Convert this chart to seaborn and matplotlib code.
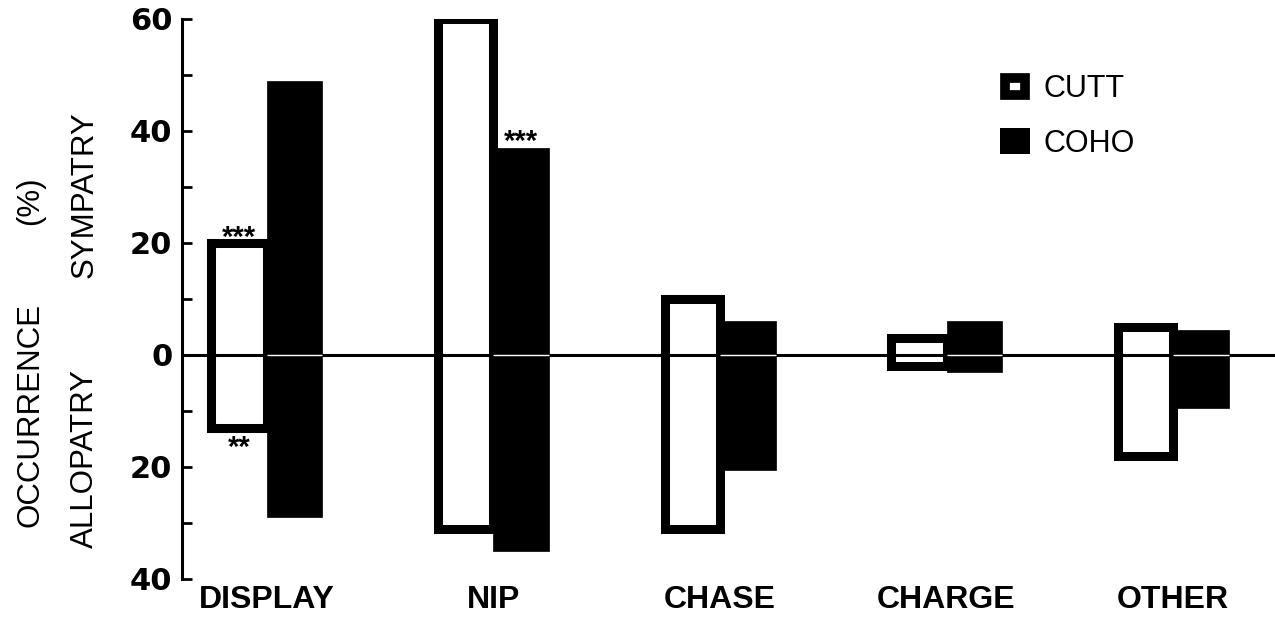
import matplotlib
matplotlib.use("Agg")
import matplotlib.pyplot as plt
import matplotlib.transforms as mtransforms
from matplotlib.patches import Patch, Rectangle
from matplotlib.legend_handler import HandlerPatch
import pandas as pd
import seaborn as sns

# Behaviour categories and the two species compared
categories = ["DISPLAY", "NIP", "CHASE", "CHARGE", "OTHER"]
species = ["CUTT", "COHO"]

# Percent occurrence: sympatry plotted upward, allopatry downward
cutt_sympatry = [20, 60, 10, 3, 5]
cutt_allopatry = [13, 31, 31, 2, 18]
coho_sympatry = [49, 37, 6, 6, 4.5]
coho_allopatry = [29, 35, 20.5, 3, 9.5]

# Significance marks: (species, category, side, text)
significance = [
    ("CUTT", "DISPLAY", "sympatry", "***"),
    ("CUTT", "DISPLAY", "allopatry", "**"),
    ("COHO", "NIP", "sympatry", "***"),
]

y_tick_values = [-40, -30, -20, -10, 0, 10, 20, 30, 40, 50, 60]
y_tick_labels = ["40", "", "20", "", "0", "", "20", "", "40", "", "60"]

sns.set_theme(style="white")
plt.rcParams["font.family"] = ["Liberation Sans", "DejaVu Sans"]
plt.rcParams.update({
    "text.color": "black", "axes.labelcolor": "black",
    "xtick.color": "black", "ytick.color": "black",
})

df = pd.DataFrame({
    "behaviour": categories * 2,
    "species": ["CUTT"] * len(categories) + ["COHO"] * len(categories),
    "sympatry": cutt_sympatry + coho_sympatry,
    "allopatry": cutt_allopatry + coho_allopatry,
})
df["span"] = df["sympatry"] + df["allopatry"]

fig = plt.figure(figsize=(12.75, 6.2), dpi=100)
ax = fig.add_axes([182 / 1275, 1 - 579 / 620, 1 - 182 / 1275, (579 - 19) / 620])

sns.barplot(
    data=df, x="behaviour", y="span", hue="species",
    order=categories, hue_order=species,
    palette={"CUTT": "white", "COHO": "black"},
    saturation=1, width=0.49, errorbar=None, legend=False, ax=ax,
)

# Each bar floats from -allopatry up to +sympatry
lows = {"CUTT": cutt_allopatry, "COHO": coho_allopatry}
highs = {"CUTT": cutt_sympatry, "COHO": coho_sympatry}
bars = {}
for sp, container in zip(species, ax.containers):
    for cat, bar, low in zip(categories, container, lows[sp]):
        bar.set_y(-low)
        bars[(sp, cat)] = bar
        if sp == "CUTT":
            bar.set_facecolor("white")
            bar.set_edgecolor("black")
            bar.set_linewidth(6.5)
            bar.set_zorder(2)
        else:
            bar.set_facecolor("black")
            bar.set_edgecolor("black")
            bar.set_linewidth(0.5)
            bar.set_zorder(2.5)

# Zero line across the plot, shown as a thin white seam inside the filled bars
ax.axhline(0, color="black", lw=2.2, zorder=3)
for cat in categories:
    bar = bars[("COHO", cat)]
    ax.hlines(0, bar.get_x(), bar.get_x() + bar.get_width(),
              color="white", lw=1.0, zorder=4)

# Significance asterisks
for sp, cat, side, mark in significance:
    bar = bars[(sp, cat)]
    xc = bar.get_x() + bar.get_width() / 2
    idx = categories.index(cat)
    if side == "sympatry":
        y, off = highs[sp][idx], (-2 if sp == "CUTT" else -1.5)
    else:
        y, off = -lows[sp][idx], -20
    ax.annotate(mark, xy=(xc, y), xytext=(0, off), textcoords="offset points",
                ha="center", va="baseline", fontsize=21, fontweight="bold",
                color="black", zorder=5)

ax.set_xlim(-0.375, 4.45)
ax.set_ylim(-40, 60)
ax.set_yticks(y_tick_values)
ax.set_yticklabels(y_tick_labels, fontsize=22, fontweight="bold",
                   family=["DejaVu Sans"])
ax.tick_params(axis="y", direction="in", length=7, width=2, pad=7, colors="black", left=True)
ax.tick_params(axis="x", length=0, pad=4, colors="black")
for lab in ax.get_xticklabels():
    lab.set_fontsize(23)
    lab.set_fontweight("bold")
ax.set_xlabel("")
ax.set_ylabel("")
for side in ["top", "right", "bottom"]:
    ax.spines[side].set_visible(False)
ax.spines["left"].set_linewidth(2.2)
ax.spines["left"].set_color("black")

# Two-line axis caption beside the y axis
blend = mtransforms.blended_transform_factory(ax.transAxes, ax.transData)
caption_kw = dict(transform=blend, rotation=90, rotation_mode="anchor",
                  ha="center", va="center", fontsize=22.5, color="black")
ax.text(-0.139, -10.7, "OCCURRENCE", **caption_kw)
ax.text(-0.139, 27.5, "(%)", **caption_kw)
ax.text(-0.0887, -18.4, "ALLOPATRY", **caption_kw)
ax.text(-0.0887, 28.6, "SYMPATRY", **caption_kw)


def inset_square(legend, orig_handle, xdescent, ydescent, width, height, fontsize):
    # key box is laid out in points; keep the outline inside it
    inset = orig_handle.get_linewidth() / 2
    return Rectangle((-xdescent + inset, -ydescent + inset),
                     width - 2 * inset, height - 2 * inset)


cutt_key = Patch(facecolor="white", edgecolor="black", linewidth=7, joinstyle="miter")
coho_key = Patch(facecolor="black", edgecolor="black", linewidth=0)
leg = ax.legend([cutt_key, coho_key], species, loc="upper left",
                bbox_to_anchor=(0.7484, 0.904), borderaxespad=0, borderpad=0,
                frameon=False, fontsize=22, handlelength=0.98, handleheight=0.98,
                handletextpad=0.45, labelspacing=0.78,
                handler_map={cutt_key: HandlerPatch(patch_func=inset_square)})
for t in leg.get_texts():
    t.set_color("black")

fig.savefig("out.png", dpi=100)
